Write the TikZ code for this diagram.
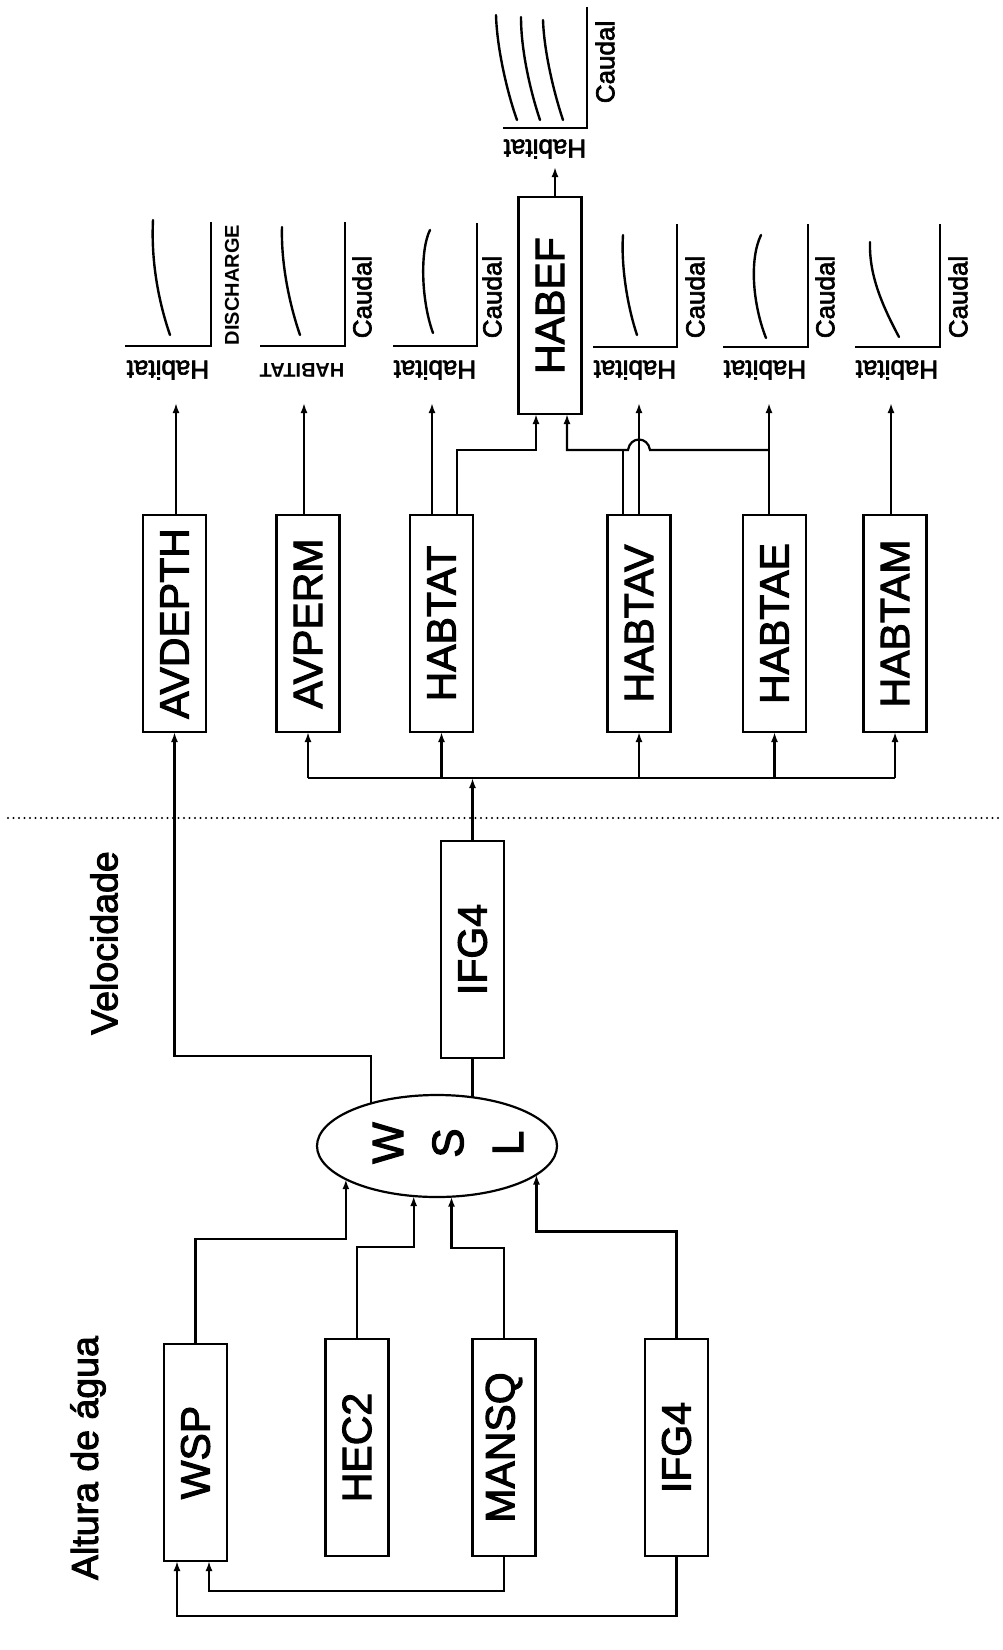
\documentclass[tikz,border=0pt]{standalone}
\usepackage{fontspec}
\setmainfont{Liberation Sans}
\newfontfamily\thk{Liberation Sans}[FakeBold=2.5]
\usepackage{graphicx}
\usetikzlibrary{arrows.meta,calc,shapes.geometric}
\tikzset{
  ln/.style={line width=2.2pt, line join=miter},
  arr/.style={ln, -{Latex[length=10pt,width=7pt]}},
  prog/.style={draw, line width=2.8pt, inner sep=0pt, outer sep=0pt, minimum width=63pt, minimum height=217pt, font=\thk\fontsize{41}{49}\selectfont},
  heading/.style={inner sep=0pt, font=\thk\fontsize{37.5}{45}\selectfont},
  axis/.style={line width=2.6pt, line join=miter},
  crv/.style={line width=2.4pt, line cap=round},
  lab/.style={inner sep=0pt, font=\thk\fontsize{26}{30}\selectfont},
  capl/.style={inner sep=0pt, font=\bfseries\fontsize{20}{24}\selectfont},
}
\begin{document}
\begin{tikzpicture}[x=1pt,y=-1pt]
\useasboundingbox[fill=white] (0,0) rectangle (1003,1650);

% headings
\node[heading] (altura) at (88,1458) {\rotatebox{90}{Altura de água}};
\node[heading] (veloc) at (104,943) {\rotatebox{90}{Velocidade}};

% bottom program boxes
\node[prog] (wsp) at (195.5,1452.5) {\rotatebox{90}{WSP}};
\node[prog] (hec) at (357,1447.5) {\rotatebox{90}{HEC2}};
\node[prog] (mansq) at (504,1447.5) {\rotatebox{90}{MANSQ}};
\node[prog] (ifgb) at (676.5,1447.5) {\rotatebox{90}{IFG4}};

% ellipse
\node[draw, ellipse, line width=2.2pt, inner sep=0pt, outer sep=0pt, minimum width=240pt, minimum height=102pt] (wsl) at (437,1146) {};
\node[rotate=90, align=center, inner sep=0pt, font=\thk\fontsize{44}{60}\selectfont] (wsltext) at (448,1143) {W\\S\\L};

% middle IFG4
\node[prog] (ifgm) at (472.5,949.5) {\rotatebox{90}{IFG4}};

% top program boxes
\node[prog] (avdepth) at (174.5,623.5) {\rotatebox{90}{AVDEPTH}};
\node[prog] (avperm) at (308,623.5) {\rotatebox{90}{AVPERM}};
\node[prog] (habtat) at (441.5,623.5) {\rotatebox{90}{HABTAT}};
\node[prog] (habtav) at (639,623.5) {\rotatebox{90}{HABTAV}};
\node[prog] (habtae) at (774.5,623.5) {\rotatebox{90}{HABTAE}};
\node[prog] (habtam) at (895,623.5) {\rotatebox{90}{HABTAM}};
\node[prog] (habef) at (550,305.5) {\rotatebox{90}{HABEF}};

% dotted separator
\draw[line width=2.4pt, line cap=round, dash pattern=on 0pt off 5.5pt] (8,818) -- (1003,818);

% bottom connections into ellipse
\draw[arr] (wsp.north) |- ($(wsl.-160.9)+(0,60)$) -- (wsl.-160.9);
\draw[arr] (hec.north) |- ($(wsl.-115.6)+(0,51)$) -- (wsl.-115.6);
\draw[arr] (mansq.north) |- ($(wsl.-74.5)+(0,51)$) -- (wsl.-74.5);
\draw[arr] (ifgb.north) |- ($(wsl.-16.7)+(0,57)$) -- (wsl.-16.7);

% feedback into WSP
\draw[arr] (mansq.south) |- ($(wsp.south)+(13.5,30)$) -- ($(wsp.south)+(13.5,0)$);
\draw[arr] (ifgb.south) |- ($(wsp.south)+(-18.5,55)$) -- ($(wsp.south)+(-18.5,0)$);

% ellipse upward
\draw[arr] (wsl.147.7) -- ++(0,-47) -| (avdepth.south);
\draw[ln] (ifgm.south) -- (ifgm.south |- wsl.53.5);

% distribution bus
\coordinate (bus) at (0,778);
\draw[arr] (ifgm.north) -- (ifgm.north |- bus);
\draw[ln] (avperm.south |- bus) -- (habtam.south |- bus);
\foreach \n in {avperm,habtat,habtav,habtae,habtam}
  \draw[arr] (\n.south |- bus) -- (\n.south);

% exits to plots
\coordinate (tip) at (0,403);
\coordinate (o1) at ($(avdepth.north)+(1.5,0)$);
\coordinate (o2) at ($(avperm.north)+(-4,0)$);
\coordinate (o3) at ($(habtat.north)+(-9.5,0)$);
\coordinate (o3b) at ($(habtat.north)+(15.5,0)$);
\coordinate (o4) at (habtav.north);
\coordinate (o4b) at ($(habtav.north)+(-16,0)$);
\coordinate (o5) at ($(habtae.north)+(-5.5,0)$);
\coordinate (o6) at ($(habtam.north)+(-4,0)$);
\foreach \o in {o1,o2,o3,o4,o5,o6}
  \draw[arr] (\o) -- (\o |- tip);

% inputs to HABEF
\coordinate (hb) at (0,450);
\coordinate (hi1) at ($(habef.south)+(-14,0)$);
\coordinate (hi2) at ($(habef.south)+(17,0)$);
\draw[arr] (o3b) |- (hi1 |- hb) -- (hi1);
\draw[arr] (o5 |- hb) -- ($(o4 |- hb)+(11,0)$) .. controls +(-2,-14) and +(2,-14) .. ($(o4 |- hb)+(-11,0)$) -- (hi2 |- hb) -- (hi2);
\draw[ln] (o4b) -- (o4b |- hb);

% HABEF output
\coordinate (o7) at ($(habef.north)+(5,0)$);
\coordinate (tiptop) at (0,167);
\draw[arr] (o7) -- (o7 |- tiptop);

% plots: axes
\draw[axis] (125,346) -| (211,222);
\draw[axis] (260,346) -| (345,222);
\draw[axis] (393,346) -| (477,223);
\draw[axis] (593,347) -| (677,224);
\draw[axis] (723,347) -| (808,224);
\draw[axis] (855,347) -| (940,224);
\draw[axis] (503,128) -| (587,7);

% plots: curves
\draw[crv] (170,335) .. controls (158,300) and (151,260) .. (153,220);
\draw[crv] (300,335) .. controls (288,300) and (281,260) .. (282,227);
\draw[crv] (433,333) .. controls (421,300) and (420,250) .. (430,230);
\draw[crv] (637,335) .. controls (627,305) and (621,265) .. (623,235);
\draw[crv] (766,338) .. controls (753,305) and (749,260) .. (761,235);
\draw[crv] (899,337) .. controls (882,305) and (869,275) .. (870,242);
\draw[crv] (517,120) .. controls (508,95) and (497,50) .. (496,15);
\draw[crv] (540,120) .. controls (530,90) and (521,50) .. (521,17);
\draw[crv] (563,120) .. controls (553,90) and (544,50) .. (543,20);

% plots: labels
\node[lab] (h1) at (168,370) {\rotatebox{180}{Habitat}};
\node[capl] (h2) at (302,370) {\rotatebox{180}{HABITAT}};
\node[lab] (h3) at (435,370) {\rotatebox{180}{Habitat}};
\node[lab] (h4) at (635,370) {\rotatebox{180}{Habitat}};
\node[lab] (h5) at (765,370) {\rotatebox{180}{Habitat}};
\node[lab] (h6) at (897,370) {\rotatebox{180}{Habitat}};
\node[lab] (h7) at (545,149) {\rotatebox{180}{Habitat}};

\node[capl] (c1) at (232,285) {\rotatebox{90}{DISCHARGE}};
\node[lab] (c2) at (362,297) {\rotatebox{90}{Caudal}};
\node[lab] (c3) at (492,297) {\rotatebox{90}{Caudal}};
\node[lab] (c4) at (695,297) {\rotatebox{90}{Caudal}};
\node[lab] (c5) at (825,297) {\rotatebox{90}{Caudal}};
\node[lab] (c6) at (958,297) {\rotatebox{90}{Caudal}};
\node[lab] (c7) at (605,62) {\rotatebox{90}{Caudal}};
\end{tikzpicture}
\end{document}
